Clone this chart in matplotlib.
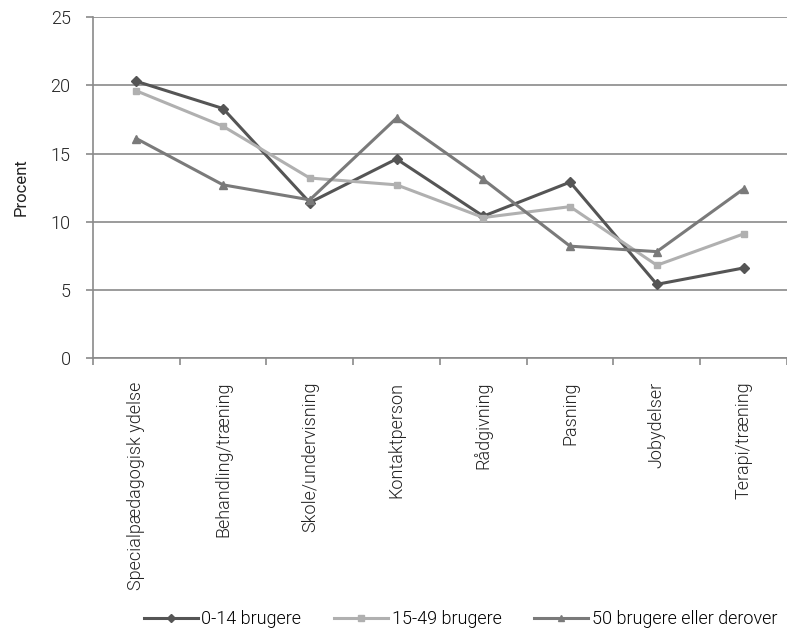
import matplotlib
matplotlib.use("Agg")
import matplotlib.pyplot as plt
import numpy as np

categories = ["Specialpædagogisk ydelse", "Behandling/træning", "Skole/undervisning",
              "Kontaktperson", "Rådgivning", "Pasning", "Jobydelser", "Terapi/træning"]
s1_name = "0-14 brugere"
s1 = [20.3, 18.3, 11.4, 14.6, 10.4, 12.9, 5.4, 6.6]
s2_name = "15-49 brugere"
s2 = [19.6, 17.0, 13.2, 12.7, 10.3, 11.1, 6.8, 9.1]
s3_name = "50 brugere eller derover"
s3 = [16.1, 12.7, 11.6, 17.6, 13.1, 8.2, 7.8, 12.4]
yticks = [0, 5, 10, 15, 20, 25]

plt.rcParams['font.family'] = ['Roboto', 'DejaVu Sans']
plt.rcParams['font.weight'] = 300

fig = plt.figure(figsize=(7.87, 6.38), dpi=100)
ax = fig.add_axes([0.118, 0.439, 0.882, 0.534])

x = np.arange(len(categories))
ax.plot(x, s1, color="#555555", lw=2.2, marker="D", ms=5, label=s1_name, zorder=3)
ax.plot(x, s2, color="#b0b0b0", lw=2.2, marker="s", ms=5, label=s2_name, zorder=3)
ax.plot(x, s3, color="#7a7a7a", lw=2.2, marker="^", ms=6, label=s3_name, zorder=3)

ax.set_xlim(-0.5, len(categories) - 0.5)
ax.set_ylim(0, 25)
ax.set_yticks(yticks)
ax.yaxis.grid(True, color="#8a8a8a", lw=1.2)
ax.set_axisbelow(True)
ax.set_xticks(x)
ax.set_xticklabels(categories, rotation=90, fontsize=13, color="#222222")
ax.tick_params(axis="x", length=0, pad=17)
ax.set_xticks(np.arange(-0.5, len(categories) + 0.5, 1), minor=True)
ax.tick_params(axis="x", which="minor", length=5, color="#8a8a8a", width=1.2)
ax.tick_params(axis="y", length=5, color="#8a8a8a", width=1.2, labelsize=13,
               labelcolor="#222222", pad=11)
for s in ["top", "right"]:
    ax.spines[s].set_visible(False)
for s in ["left", "bottom"]:
    ax.spines[s].set_color("#8a8a8a")
    ax.spines[s].set_linewidth(1.2)
ax.set_ylabel("Procent", fontsize=12, color="#222222", labelpad=16)

fig.legend(loc="lower center", bbox_to_anchor=(0.585, -0.01), ncol=3, frameon=False,
           fontsize=13, handlelength=3, columnspacing=1.8, handletextpad=0.2,
           markerscale=0.8)

fig.savefig("out.png", dpi=100)
